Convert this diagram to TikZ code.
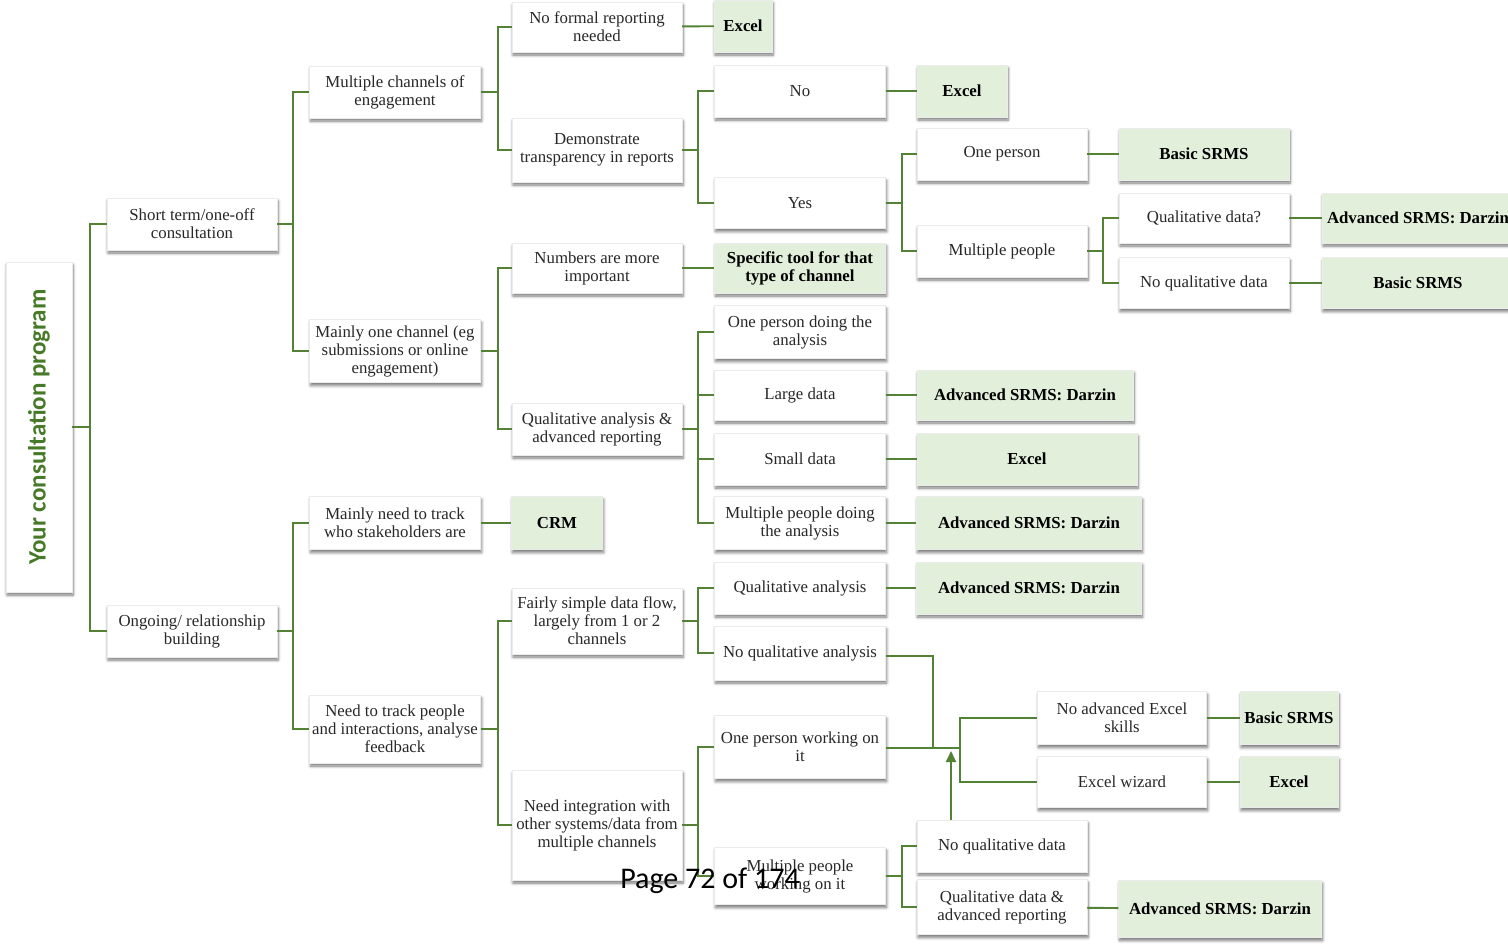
\documentclass[tikz,border=0pt]{standalone}
\usepackage{fontspec}
\setmainfont{Liberation Serif}
\newfontfamily\calib{Carlito}
\usetikzlibrary{shadows.blur,arrows.meta,calc}
\definecolor{lineg}{RGB}{84,130,53}
\definecolor{leafg}{RGB}{226,239,218}
\definecolor{txtc}{RGB}{40,40,40}
\definecolor{rootg}{RGB}{70,122,40}
\tikzset{
  bx/.style={draw=black!8, line width=0.4pt, fill=white, align=center, inner sep=0pt,
    text=txtc, font=\fontsize{16.8}{18}\selectfont,
    blur shadow={shadow xshift=1pt, shadow yshift=-3pt, shadow blur radius=3pt, shadow blur steps=6, shadow opacity=55}},
  lf/.style={bx, fill=leafg, text=black, font=\fontsize{16.8}{18}\selectfont\bfseries},
  conn/.style={draw=lineg, line width=1.9pt},
  sz/.style 2 args={minimum width=#1pt, minimum height=#2pt},
}
\begin{document}
\begin{tikzpicture}[x=1pt,y=-1pt]
\useasboundingbox (0,0) rectangle (1508,946);
% root
\node[bx, sz={66}{330}] (root) at (39,427) {\rotatebox{90}{\calib\fontsize{25}{27}\selectfont\bfseries\color{rootg}Your consultation program}};
% level 1
\node[bx,sz={170}{52}] (short) at (192,224) {Short term/one-off\\consultation};
\node[bx,sz={170}{52}] (ongo) at (192,631) {Ongoing/ relationship\\building};
% level 2
\node[bx,sz={171}{52}] (multich) at (395,92) {Multiple channels of\\engagement};
\node[bx,sz={171}{63}] (onech) at (395,351) {Mainly one channel (eg\\submissions or online\\engagement)};
\node[bx,sz={171}{53}] (track) at (395,523) {Mainly need to track\\who stakeholders are};
\node[bx,sz={171}{68}] (people) at (395,729) {Need to track people\\and interactions, analyse\\feedback};
% level 3
\node[bx,sz={170}{50}] (noformal) at (597,27) {No formal reporting\\needed};
\node[bx,sz={170}{64}] (transp) at (597,150) {Demonstrate\\transparency in reports};
\node[bx,sz={170}{50}] (numbers) at (597,268) {Numbers are more\\important};
\node[bx,sz={170}{52}] (qualadv) at (597,429) {Qualitative analysis \&\\advanced reporting};
\node[bx,sz={170}{66}] (simple) at (597,621) {Fairly simple data flow,\\largely from 1 or 2\\channels};
\node[bx,sz={170}{110}] (integ) at (597,825) {Need integration with\\other systems/data from\\multiple channels};
\node[lf,sz={58}{52}] (excelA) at (743,26) {Excel};
\node[lf,sz={91}{53}] (crm) at (557,523) {CRM};
% level 4
\node[bx,sz={171}{52}] (no) at (800,91) {No};
\node[bx,sz={171}{51}] (yes) at (800,203) {Yes};
\node[lf,sz={171}{50}] (specific) at (800,268) {Specific tool for that\\type of channel};
\node[bx,sz={171}{53}] (oneanal) at (800,332) {One person doing the\\analysis};
\node[bx,sz={171}{50}] (large) at (800,395) {Large data};
\node[bx,sz={171}{52}] (small) at (800,459) {Small data};
\node[bx,sz={171}{53}] (multanal) at (800,523) {Multiple people doing\\the analysis};
\node[bx,sz={171}{52}] (qa) at (800,588) {Qualitative analysis};
\node[bx,sz={171}{54}] (noqa) at (800,653) {No qualitative analysis};
\node[bx,sz={171}{63}] (oneit) at (800,747) {One person working on\\it};
\node[bx,sz={171}{57}] (multit) at (800,876) {Multiple people\\working on it};
% level 5
\node[lf,sz={90}{52}] (excelB) at (962,91) {Excel};
\node[bx,sz={170}{52}] (oneperson) at (1002,154) {One person};
\node[bx,sz={170}{52}] (multpeople) at (1002,251) {Multiple people};
\node[lf,sz={216}{50}] (darzA) at (1025,395) {Advanced SRMS: Darzin};
\node[lf,sz={220}{52}] (excelC) at (1027,459) {Excel};
\node[lf,sz={225}{53}] (darzB) at (1029,523) {Advanced SRMS: Darzin};
\node[lf,sz={225}{52}] (darzC) at (1029,588) {Advanced SRMS: Darzin};
\node[bx,sz={170}{52}] (noqd) at (1002,846) {No qualitative data};
\node[bx,sz={170}{55}] (qdadv) at (1002,907) {Qualitative data \&\\advanced reporting};
% level 6
\node[lf,sz={170}{52}] (basicA) at (1204,154) {Basic SRMS};
\node[bx,sz={170}{50}] (qd) at (1204,218) {Qualitative data?};
\node[bx,sz={170}{51}] (noqdB) at (1204,283) {No qualitative data};
\node[lf,sz={192}{50}] (darzD) at (1418,218) {Advanced SRMS: Darzin};
\node[lf,sz={192}{51}] (basicB) at (1418,283) {Basic SRMS};
\node[lf,sz={203}{57}] (darzE) at (1220,909) {Advanced SRMS: Darzin};
\node[bx,sz={169}{53}] (noadv) at (1122,718) {No advanced Excel\\skills};
\node[bx,sz={169}{51}] (wiz) at (1122,782) {Excel wizard};
\node[lf,sz={98}{53}] (basicC) at (1289,718) {Basic SRMS};
\node[lf,sz={98}{51}] (excelD) at (1289,782) {Excel};
% connectors
\foreach \c in {short,ongo} \draw[conn] (root.east) -- ++(18,0) |- (\c.west);
\foreach \c in {multich,onech} \draw[conn] (short.east) -- ++(16,0) |- (\c.west);
\foreach \c in {track,people} \draw[conn] (ongo.east) -- ++(16,0) |- (\c.west);
\foreach \c in {noformal,transp} \draw[conn] (multich.east) -- ++(17,0) |- (\c.west);
\foreach \c in {numbers,qualadv} \draw[conn] (onech.east) -- ++(17,0) |- (\c.west);
\foreach \c in {simple,integ} \draw[conn] (people.east) -- ++(17,0) |- (\c.west);
\draw[conn] (track) -- (crm);
\draw[conn] (noformal) -- (excelA);
\foreach \c in {no,yes} \draw[conn] (transp.east) -- ++(16,0) |- (\c.west);
\draw[conn] (numbers) -- (specific);
\foreach \c in {oneanal,large,small,multanal} \draw[conn] (qualadv.east) -- ++(16,0) |- (\c.west);
\foreach \c in {qa,noqa} \draw[conn] (simple.east) -- ++(16,0) |- (\c.west);
\foreach \c in {oneit,multit} \draw[conn] (integ.east) -- ++(16,0) |- (\c.west);
\draw[conn] (no) -- (excelB);
\foreach \c in {oneperson,multpeople} \draw[conn] (yes.east) -- ++(16,0) |- (\c.west);
\draw[conn] (large) -- (darzA);
\draw[conn] (small) -- (excelC);
\draw[conn] (multanal) -- (darzB);
\draw[conn] (qa) -- (darzC);
\foreach \c in {noqd,qdadv} \draw[conn] (multit.east) -- ++(16,0) |- (\c.west);
\draw[conn] (oneperson) -- (basicA);
\foreach \c in {qd,noqdB} \draw[conn] (multpeople.east) -- ++(16,0) |- (\c.west);
\draw[conn] (qd) -- (darzD);
\draw[conn] (noqdB) -- (basicB);
\draw[conn] (qdadv) -- (darzE);
\coordinate (jA) at (933,748);
\coordinate (jB) at (960,748);
\coordinate (jArr) at (951,751);
\draw[conn] ($(noqa.east)+(0,3)$) -| (jA);
\draw[conn] (oneit.east |- jB) -- (jB);
\draw[conn] (jB) |- (noadv.west);
\draw[conn] (jB) |- (wiz.west);
\draw[conn,-{Triangle[length=11pt,width=10pt]}] (noqd.north -| jArr) -- (jArr);
\draw[conn] (noadv) -- (basicC);
\draw[conn] (wiz) -- (excelD);
% page label
\node[font=\calib\fontsize{30}{32}\selectfont, text=black, inner sep=0] (pg) at (710,881) {Page 72 of 174};
\end{tikzpicture}
\end{document}
